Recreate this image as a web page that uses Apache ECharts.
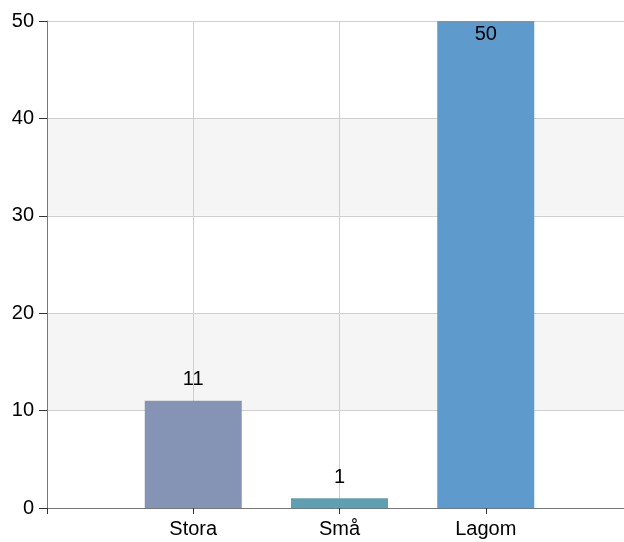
<!DOCTYPE html>
<html>
<head>
<meta charset="utf-8">
<script src="https://cdn.jsdelivr.net/npm/echarts@6/dist/echarts.min.js"></script>
<style>html,body{margin:0;padding:0;background:#fff}#c{width:624px;height:542px}</style>
</head>
<body>
<div id="c"></div>
<script>
const categories = ['Stora', 'Små', 'Lagom'];
const values = [11, 1, 50];
const barColors = ['#8594b5', '#5f9fb2', '#5e9acb'];
const yTicks = [0, 10, 20, 30, 40, 50];

const yMin = yTicks[0], yMax = yTicks[yTicks.length - 1], yStep = yTicks[1] - yTicks[0];
const axisCats = [''].concat(categories, ['']);
const seriesData = [null].concat(values.map((v, i) => ({
  value: v,
  itemStyle: { color: barColors[i] },
  label: v >= yMax ? { position: 'insideTop', distance: 3 } : { position: 'top', distance: 11 }
})), [null]);

const font = '"Liberation Sans", Arial, sans-serif';
const chart = echarts.init(document.getElementById('c'), null, { renderer: 'canvas' });
chart.setOption({
  animation: false,
  grid: { left: 47, width: 585, top: 21, height: 487, outerBoundsMode: 'none', containLabel: false },
  xAxis: {
    type: 'category',
    data: axisCats,
    boundaryGap: false,
    axisLine: { lineStyle: { color: '#777', width: 1 } },
    axisTick: { length: 6, lineStyle: { color: '#333' } },
    axisLabel: { color: '#000', fontSize: 20, fontFamily: font, margin: 11, interval: 0 },
    splitLine: { show: true, lineStyle: { color: '#cfcfcf' } }
  },
  yAxis: {
    type: 'value',
    min: yMin, max: yMax, interval: yStep,
    axisLine: { show: true, lineStyle: { color: '#777', width: 1 } },
    axisTick: { show: true, length: 8, lineStyle: { color: '#333' } },
    axisLabel: { color: '#000', fontSize: 20, fontFamily: font, margin: 13 },
    splitLine: { show: true, lineStyle: { color: '#cfcfcf' } },
    splitArea: { show: true, areaStyle: { color: ['#ffffff', '#f5f5f5'] } }
  },
  series: [{
    type: 'bar',
    data: seriesData,
    barWidth: 97,
    label: { show: true, color: '#000', fontSize: 20, fontFamily: font }
  }]
});
</script>
</body>
</html>
